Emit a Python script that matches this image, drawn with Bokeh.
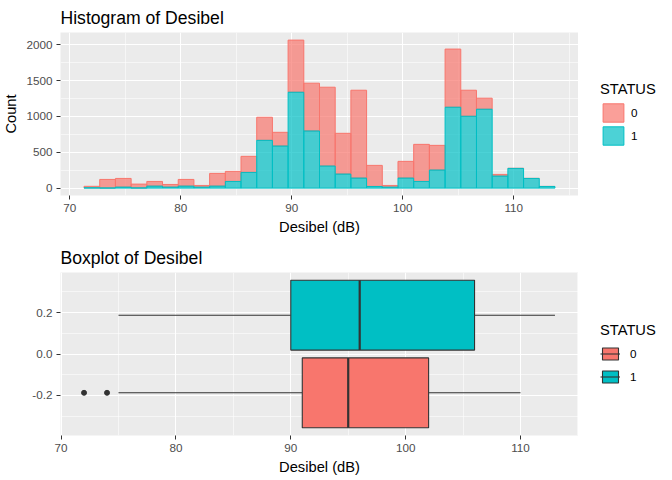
import numpy as np
from bokeh.plotting import figure
from bokeh.layouts import column, row
from bokeh.models import (ColumnDataSource, FixedTicker, Legend, LegendItem,
                          Range1d, NumeralTickFormatter)
from bokeh.embed import file_html
from bokeh.resources import INLINE

FONT = "Liberation Sans"

status = ["0", "1"]
colors = ["#F8766D", "#00BFC4"]

# histogram: counts per bin (30 bins from 71.29 to 113.71)
bin_lo = 71.29
bin_hi = 113.71
count_0 = [20, 119, 121, 53, 65, 37, 93, 23, 177, 140, 224, 322, 191, 727, 666,
           1099, 568, 1225, 294, 23, 233, 517, 344, 811, 363, 154, 23, 0, 0, 0]
count_1 = [5, 2, 14, 3, 28, 14, 28, 14, 28, 93, 219, 666, 587, 1337, 797,
           308, 196, 140, 23, 14, 140, 93, 252, 1128, 1002, 1100, 168, 275, 135, 23]

# boxplot stats per STATUS
q1 = [91, 90]
median = [95, 96]
q3 = [102, 106]
whisk_lo = [75, 75]
whisk_hi = [110, 113]
outliers_0 = [72, 74]

NAN = [np.nan]  # legend-only key glyphs: one empty point so the key gets drawn


def style(p):
    p.background_fill_color = "#EBEBEB"
    p.outline_line_color = None
    for ax in (p.xaxis[0], p.yaxis[0]):
        ax.axis_line_color = None
        ax.major_tick_line_color = "#333333"
        ax.major_tick_in = 0
        ax.major_tick_out = 4
        ax.minor_tick_line_color = None
        ax.major_label_text_font = FONT
        ax.major_label_text_font_size = "11.7px"
        ax.major_label_text_color = "#4D4D4D"
        ax.major_label_standoff = 4
        ax.axis_label_text_font = FONT
        ax.axis_label_text_font_size = "14.7px"
        ax.axis_label_text_font_style = "normal"
        ax.axis_label_text_color = "black"
        ax.axis_label_standoff = 4
    for g in (p.xgrid[0], p.ygrid[0]):
        g.grid_line_color = "white"
        g.grid_line_width = 1.1
        g.minor_grid_line_color = "white"
        g.minor_grid_line_width = 0.55
    p.title.text_font = FONT
    p.title.text_font_size = "17.6px"
    p.title.text_font_style = "normal"
    p.title.text_color = "black"
    p.title.offset = 0
    p.title.standoff = 10


def legend_fig():
    # a blank strip to the right of a panel that only holds its legend
    lf = figure(width=94, height=240, output_backend="svg", toolbar_location=None,
                x_axis_location=None, y_axis_location=None,
                x_range=Range1d(0, 1), y_range=Range1d(0, 1),
                min_border_left=0, min_border_right=0, min_border_top=0, min_border_bottom=0)
    lf.grid.visible = False
    lf.outline_line_color = None
    return lf


def style_legend(leg):
    leg.border_line_color = None
    leg.background_fill_alpha = 0
    leg.padding = 0
    leg.margin = 0
    leg.title_text_font = FONT
    leg.title_text_font_size = "14.7px"
    leg.title_text_font_style = "normal"
    leg.title_text_color = "black"
    leg.label_text_font = FONT
    leg.label_text_font_size = "11.7px"
    leg.label_text_color = "black"
    leg.label_height = 10


# ---- histogram ----
edges = np.linspace(bin_lo, bin_hi, len(count_0) + 1)
c0 = np.array(count_0)
c1 = np.array(count_1)
hist_src = ColumnDataSource(dict(left=edges[:-1], right=edges[1:], c1=c1, tot=c0 + c1))

p1 = figure(width=578, height=240, output_backend="svg", toolbar_location=None,
            x_range=Range1d(69.17, 115.83), y_range=Range1d(-103, 2170),
            title="Histogram of Desibel", x_axis_label="Desibel (dB)", y_axis_label="Count",
            min_border_left=60, min_border_right=0, min_border_top=32, min_border_bottom=45)
style(p1)
p1.xaxis.ticker = FixedTicker(ticks=[70, 80, 90, 100, 110], minor_ticks=[75, 85, 95, 105, 115])
p1.yaxis.ticker = FixedTicker(ticks=[0, 500, 1000, 1500, 2000], minor_ticks=[250, 750, 1250, 1750])

hist_style = [dict(fill_color=c, fill_alpha=0.7, line_color=c, line_width=1) for c in colors]
p1.quad(left="left", right="right", bottom="c1", top="tot", source=hist_src, **hist_style[0])
p1.quad(left="left", right="right", bottom=0, top="c1", source=hist_src, **hist_style[1])

lf1 = legend_fig()
keys1 = [lf1.quad(left=NAN, right=NAN, bottom=NAN, top=NAN, **s) for s in hist_style]
leg1 = Legend(items=[LegendItem(label=s, renderers=[k]) for s, k in zip(status, keys1)],
              title="STATUS", location=(22, 48))
style_legend(leg1)
leg1.glyph_width = 26
leg1.glyph_height = 23
leg1.spacing = 0
leg1.label_standoff = 5
leg1.title_standoff = 4
lf1.add_layout(leg1)

# ---- boxplot ----
dodge = 0.1875
box_h = 0.3375
ypos = np.array([-dodge, dodge])
box_src = ColumnDataSource(dict(y=ypos, y0=ypos - box_h / 2, y1=ypos + box_h / 2,
                                q1=q1, q3=q3, med=median, lo=whisk_lo, hi=whisk_hi,
                                color=colors))

p2 = figure(width=578, height=240, output_backend="svg", toolbar_location=None,
            x_range=Range1d(69.95, 115.05), y_range=Range1d(-0.39375, 0.39375),
            title="Boxplot of Desibel", x_axis_label="Desibel (dB)",
            min_border_left=60, min_border_right=0, min_border_top=32, min_border_bottom=45)
style(p2)
p2.xaxis.ticker = FixedTicker(ticks=[70, 80, 90, 100, 110], minor_ticks=[75, 85, 95, 105, 115])
p2.yaxis.ticker = FixedTicker(ticks=[-0.2, 0, 0.2], minor_ticks=[-0.3, -0.1, 0.1, 0.3])
p2.yaxis.formatter = NumeralTickFormatter(format="0.0")

p2.segment(x0="lo", y0="y", x1="q1", y1="y", source=box_src, line_color="#333333", line_width=1.1)
p2.segment(x0="q3", y0="y", x1="hi", y1="y", source=box_src, line_color="#333333", line_width=1.1)
p2.hbar(y="y", left="q1", right="q3", height=box_h, source=box_src,
        fill_color="color", line_color="#333333", line_width=1.1)
p2.segment(x0="med", y0="y0", x1="med", y1="y1", source=box_src,
           line_color="#333333", line_width=2.2)
p2.scatter(x=outliers_0, y=[-dodge] * len(outliers_0), size=5, color="#333333")

lf2 = legend_fig()
items2 = []
for s, c in zip(status, colors):
    kb = lf2.quad(left=NAN, right=NAN, bottom=NAN, top=NAN, fill_color=c,
                  line_color="#333333", line_width=1.1)
    km = lf2.segment(x0=NAN, y0=NAN, x1=NAN, y1=NAN, line_color="#333333", line_width=1.1)
    items2.append(LegendItem(label=s, renderers=[kb, km]))
leg2 = Legend(items=items2, title="STATUS", location=(22, 51))
style_legend(leg2)
leg2.glyph_width = 20
leg2.glyph_height = 15
leg2.spacing = 8
leg2.label_standoff = 10
leg2.title_standoff = 8
lf2.add_layout(leg2)

layout = column(row(p1, lf1, spacing=0), row(p2, lf2, spacing=0), spacing=0)
open("out.html", "w").write(file_html(layout, INLINE))
